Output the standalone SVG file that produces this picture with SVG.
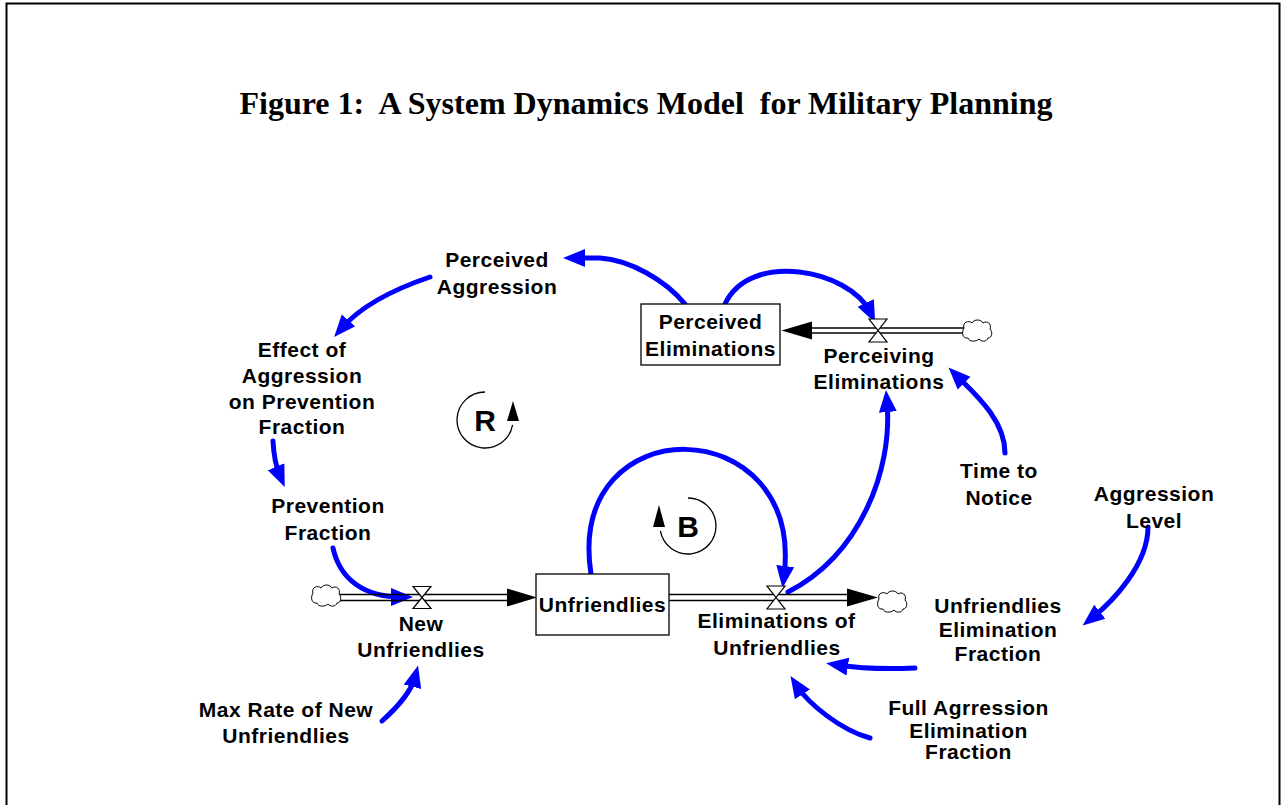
<svg xmlns="http://www.w3.org/2000/svg" xmlns:xlink="http://www.w3.org/1999/xlink" width="1283" height="805" viewBox="0 0 1283 805">
<style>
.lbl{font-family:"Liberation Sans",Arial,sans-serif;font-weight:bold;font-size:21px;letter-spacing:0.5px;fill:#000;text-anchor:middle}
.title{font-family:"Liberation Serif","Times New Roman",serif;font-weight:bold;font-size:32px;fill:#000;text-anchor:middle}
.loopl{font-family:"Liberation Sans",Arial,sans-serif;font-weight:bold;font-size:30px;fill:#000;text-anchor:middle}
.link{fill:none;stroke:#0000ff;stroke-width:5;stroke-linecap:round}
.pipe{stroke:#000;stroke-width:1.3;fill:none}
.valve{fill:#fff;stroke:#000;stroke-width:1.2}
.stock{fill:#fff;stroke:#000;stroke-width:1.3}
.cloud{fill:#fff;stroke:#000;stroke-width:1}
.loop{fill:none;stroke:#000;stroke-width:1.3}
</style>
<defs>
<marker id="ah" markerUnits="userSpaceOnUse" markerWidth="24" markerHeight="20" viewBox="-10 -10 24 20" refX="0" refY="0" orient="auto">
<path d="M-10,-9 L12,0 L-10,9 Z" fill="#0000ff"/>
</marker>
<path id="cloudp" d="M-13,-3 C-15,-9 -8,-11 -5,-8 C-3,-12 4,-12 6,-8 C10,-11 15,-7 13,-2 C16,1 15,7 11,7 C10,11 4,11 2,8 C-1,11 -8,11 -9,7 C-14,8 -16,2 -13,-3 Z"/>
</defs>
<rect width="1283" height="805" fill="#fff"/>
<path d="M6.5,805 V3.5 H1279.5 V805" fill="none" stroke="#000" stroke-width="2"/>
<text class="title" x="646" y="114" xml:space="preserve">Figure 1:  A System Dynamics Model  for Military Planning</text>

<g id="connectors">
<path class="link" d="M685,304 C665,280 630,260 600,258 L575,258" marker-end="url(#ah)"/>
<path class="link" d="M430,277 Q368,298 342,328" marker-end="url(#ah)"/>
<path class="link" d="M273,441 Q274,462 280,476" marker-end="url(#ah)"/>
<path class="link" d="M333,548 C340,580 365,597 401,597" marker-end="url(#ah)"/>
<path class="link" d="M382,721 Q410,696 415,677" marker-end="url(#ah)"/>
<path class="link" d="M591,574 C565,405 805,410 784,576" marker-end="url(#ah)"/>
<path class="link" d="M788,592 C860,555 893,470 887,402" marker-end="url(#ah)"/>
<path class="link" d="M725,304 C750,250 850,270 870,312" marker-end="url(#ah)"/>
<path class="link" d="M1005,453 C1005,420 975,394 957,376" marker-end="url(#ah)"/>
<path class="link" d="M1148,527 C1148,565 1112,602 1092,618" marker-end="url(#ah)"/>
<path class="link" d="M915,668 Q870,670 838,665" marker-end="url(#ah)"/>
<path class="link" d="M870,738 C840,730 808,703 797,686" marker-end="url(#ah)"/>
</g>

<g id="flow-new-unfriendlies">
<use xlink:href="#cloudp" class="cloud" x="326" y="596"/>
<line class="pipe" x1="340" y1="594.5" x2="508" y2="594.5"/>
<line class="pipe" x1="340" y1="600.5" x2="508" y2="600.5"/>
<polygon points="537,597.5 507,588.5 507,606.5" fill="#000"/>
<polygon class="valve" points="413,586.5 431,586.5 413,608.5 431,608.5"/>
<text class="lbl" x="421" y="631">New</text>
<text class="lbl" x="421" y="657">Unfriendlies</text>
</g>

<g id="stock-unfriendlies">
<rect class="stock" x="536" y="574" width="133" height="61"/>
<text class="lbl" x="602.5" y="612">Unfriendlies</text>
</g>

<g id="flow-eliminations">
<line class="pipe" x1="669" y1="594.5" x2="848" y2="594.5"/>
<line class="pipe" x1="669" y1="600.5" x2="848" y2="600.5"/>
<polygon points="878,597.5 847,588.5 847,606.5" fill="#000"/>
<use xlink:href="#cloudp" class="cloud" x="892" y="602"/>
<polygon class="valve" points="767,586 785,586 767,609 785,609"/>
<text class="lbl" x="776.5" y="628">Eliminations of</text>
<text class="lbl" x="777" y="655">Unfriendlies</text>
</g>

<g id="stock-perceived-eliminations">
<rect class="stock" x="641" y="304" width="139" height="61"/>
<text class="lbl" x="710.5" y="329">Perceived</text>
<text class="lbl" x="710.5" y="356">Eliminations</text>
</g>

<g id="flow-perceiving-eliminations">
<line class="pipe" x1="811" y1="328" x2="964" y2="328"/>
<line class="pipe" x1="811" y1="333" x2="964" y2="333"/>
<polygon points="781.5,330.5 812,321.5 812,339.5" fill="#000"/>
<use xlink:href="#cloudp" class="cloud" x="977" y="331"/>
<polygon class="valve" points="869,319 887,319 869,342 887,342"/>
<text class="lbl" x="879" y="363">Perceiving</text>
<text class="lbl" x="879" y="389">Eliminations</text>
</g>

<g id="perceived-aggression">
<text class="lbl" x="497" y="267">Perceived</text>
<text class="lbl" x="497" y="294">Aggression</text>
</g>
<g id="effect-of-aggression">
<text class="lbl" x="302" y="357">Effect of</text>
<text class="lbl" x="302" y="383">Aggression</text>
<text class="lbl" x="302" y="409">on Prevention</text>
<text class="lbl" x="302" y="434">Fraction</text>
</g>
<g id="prevention-fraction">
<text class="lbl" x="328" y="513">Prevention</text>
<text class="lbl" x="328" y="540">Fraction</text>
</g>
<g id="max-rate">
<text class="lbl" x="286" y="717">Max Rate of New</text>
<text class="lbl" x="286" y="743">Unfriendlies</text>
</g>
<g id="time-to-notice">
<text class="lbl" x="999" y="478">Time to</text>
<text class="lbl" x="999" y="505">Notice</text>
</g>
<g id="aggression-level">
<text class="lbl" x="1154" y="501">Aggression</text>
<text class="lbl" x="1154" y="528">Level</text>
</g>
<g id="unfriendlies-elimination-fraction">
<text class="lbl" x="998" y="613">Unfriendlies</text>
<text class="lbl" x="998" y="637">Elimination</text>
<text class="lbl" x="998" y="661">Fraction</text>
</g>
<g id="full-aggression-elimination-fraction">
<text class="lbl" x="968.5" y="715">Full Agrression</text>
<text class="lbl" x="968.5" y="738">Elimination</text>
<text class="lbl" x="968.5" y="759">Fraction</text>
</g>

<g id="loop-R">
<path class="loop" d="M485,392 A28,28 0 1 0 512.6,424.9"/>
<polygon points="513,401 507,421 519,421" fill="#000"/>
<text class="loopl" x="485" y="431">R</text>
</g>
<g id="loop-B">
<path class="loop" d="M688,498 A28,28 0 1 1 660.4,530.9"/>
<polygon points="659,505 653,527 665,527" fill="#000"/>
<text class="loopl" x="688" y="537">B</text>
</g>
</svg>
